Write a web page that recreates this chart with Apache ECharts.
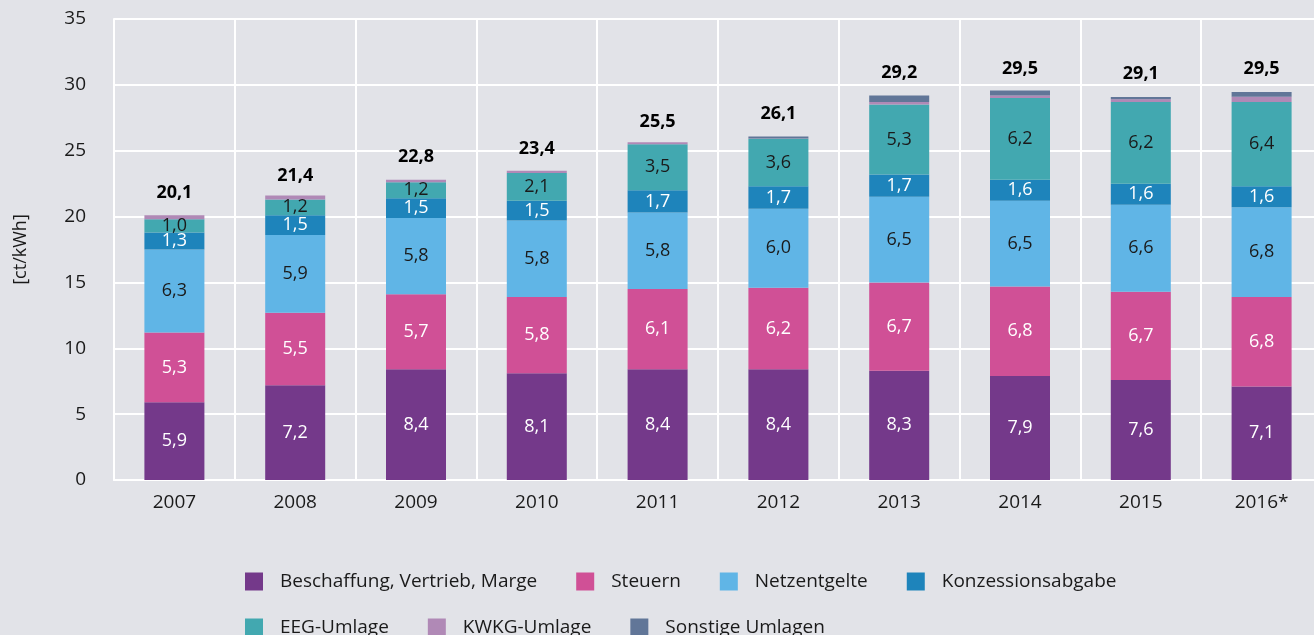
<!DOCTYPE html>
<html>
<head>
<meta charset="utf-8">
<script src="https://cdn.jsdelivr.net/npm/echarts@6/dist/echarts.min.js"></script>
<style>
html,body{margin:0;padding:0;background:#e2e3e8;overflow:hidden;}
#c{width:1330px;height:635px;}
</style>
</head>
<body>
<div id="c"></div>
<script>
const years = ['2007','2008','2009','2010','2011','2012','2013','2014','2015','2016*'];
const beschaffung = [5.9,7.2,8.4,8.1,8.4,8.4,8.3,7.9,7.6,7.1];
const steuern = [5.3,5.5,5.7,5.8,6.1,6.2,6.7,6.8,6.7,6.8];
const netzentgelte = [6.3,5.9,5.8,5.8,5.8,6.0,6.5,6.5,6.6,6.8];
const konzession = [1.3,1.5,1.5,1.5,1.7,1.7,1.7,1.6,1.6,1.6];
const eeg = [1.0,1.2,1.2,2.1,3.5,3.6,5.3,6.2,6.2,6.4];
const kwkg = [0.3,0.3,0.2,0.17,0.15,0.02,0.19,0.2,0.2,0.4];
const sonstige = [0,0,0,0,0,0.15,0.5,0.38,0.18,0.35];
const totals = [20.1,21.4,22.8,23.4,25.5,26.1,29.2,29.5,29.1,29.5];
const yTicks = [0,5,10,15,20,25,30,35];

const FONT = 'Open Sans';
const fmt1 = v => v.toFixed(1).replace('.', ',');

function barSeries(name, data, color, labelColor) {
  return {
    name, type: 'bar', stack: 'total', data, barWidth: 60,
    itemStyle: { color },
    label: labelColor ? {
      show: true, position: 'inside', color: labelColor,
      fontFamily: FONT, fontSize: 18,
      formatter: p => fmt1(p.value)
    } : { show: false },
    emphasis: { disabled: true }
  };
}

const legendText = { color: '#1a1a1a', fontFamily: FONT, fontSize: 19, padding: [0,0,0,12] };

const chart = echarts.init(document.getElementById('c'));
chart.setOption({
  backgroundColor: '#e2e3e8',
  animation: false,
  grid: { left: 114, top: 19, width: 1208, height: 461 },
  xAxis: {
    type: 'category', data: years,
    axisLine: { show: true, lineStyle: { color: '#ffffff', width: 2 } },
    axisTick: { show: false },
    splitLine: { show: true, lineStyle: { color: '#ffffff', width: 2 } },
    axisLabel: { color: '#1a1a1a', fontFamily: FONT, fontSize: 19, margin: 13 }
  },
  yAxis: {
    type: 'value', min: 0, max: 35, interval: 5,
    name: '[ct/kWh]', nameLocation: 'middle', nameGap: 84, nameRotate: 90,
    nameTextStyle: { color: '#1a1a1a', fontFamily: FONT, fontSize: 18 },
    axisLine: { show: true, lineStyle: { color: '#ffffff', width: 2 } },
    axisTick: { show: false },
    splitLine: { show: true, lineStyle: { color: '#ffffff', width: 2 } },
    axisLabel: { color: '#1a1a1a', fontFamily: FONT, fontSize: 19, margin: 28,
      formatter: v => yTicks.includes(v) ? String(v) : '' }
  },
  legend: [
    {
      left: 240, top: 567, itemWidth: 18, itemHeight: 18, itemGap: 39,
      icon: 'rect', textStyle: legendText,
      data: ['Beschaffung, Vertrieb, Marge','Steuern','Netzentgelte','Konzessionsabgabe']
    },
    {
      left: 240, top: 613, itemWidth: 18, itemHeight: 18, itemGap: 39,
      icon: 'rect', textStyle: legendText,
      data: ['EEG-Umlage','KWKG-Umlage','Sonstige Umlagen']
    }
  ],
  series: [
    barSeries('Beschaffung, Vertrieb, Marge', beschaffung, '#74398a', '#ffffff'),
    barSeries('Steuern', steuern, '#d05096', '#ffffff'),
    barSeries('Netzentgelte', netzentgelte, '#60b5e6', '#1a1a1a'),
    barSeries('Konzessionsabgabe', konzession, '#1e84bb', '#ffffff'),
    barSeries('EEG-Umlage', eeg, '#42a8b0', '#1a1a1a'),
    barSeries('KWKG-Umlage', kwkg, '#b089b6', null),
    barSeries('Sonstige Umlagen', sonstige, '#617698', null),
    {
      name: 'Summe', type: 'line', data: totals,
      symbol: 'circle', symbolSize: 1, showSymbol: true,
      itemStyle: { color: 'rgba(0,0,0,0)' },
      lineStyle: { opacity: 0 }, silent: true,
      label: { show: true, position: 'top', distance: 13, color: '#000000',
        fontFamily: FONT, fontSize: 18, fontWeight: 'bold',
        formatter: p => fmt1(p.value) },
      z: 10
    }
  ]
});
</script>
</body>
</html>
